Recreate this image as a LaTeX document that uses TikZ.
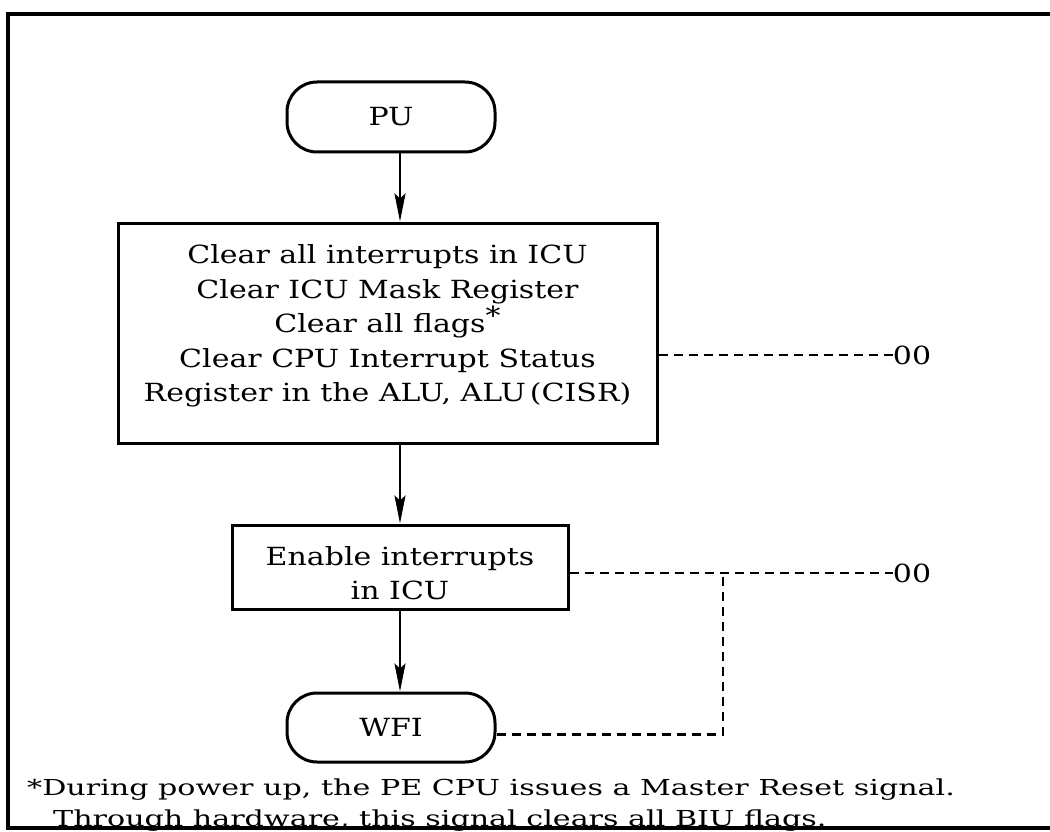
\documentclass[tikz,border=0pt]{standalone}
\usepackage{fontspec}
\setmainfont{DejaVu Serif}[FakeStretch=1.2]
\newfontfamily\fnfont{DejaVu Serif}[FakeStretch=1.37]
\usetikzlibrary{arrows.meta}
\newcommand\mainsz{\fontsize{25}{34.5}\selectfont}
\newcommand\fnsz{\fnfont\fontsize{22}{30}\selectfont}
\begin{document}
\begin{tikzpicture}[x=1pt,y=-1pt,
  frame/.style={line width=3.4pt},
  boxst/.style={draw, line width=3pt, inner sep=0pt},
  term/.style={draw, line width=3pt, rounded corners=30pt, minimum width=208pt, minimum height=70pt, inner sep=0pt, font=\mainsz},
  txt/.style={align=center, inner sep=0pt, font=\mainsz},
  flow/.style={line width=2.4pt, -{Stealth[length=28pt,width=11pt,inset=5pt]}},
  dashline/.style={line width=2.4pt, dash pattern=on 9pt off 6pt},
  fn/.style={anchor=base west, inner sep=0pt, font=\fnsz},
]
\useasboundingbox (0,0) rectangle (1050,832);
% outer frame
\draw[frame] (1050,14) -- (8,14) -- (8,828) -- (1050,828);

% nodes
\node[term] (pu) at (391,117) {PU};
\node[boxst, minimum width=539pt, minimum height=220pt] (clr) at (387.5,333) {};
\node[txt] (clrtxt) at ([yshift=7pt]clr.center) {Clear all interrupts in ICU\\
Clear ICU Mask Register\\
Clear all flags\raisebox{8pt}{*}\\
Clear CPU Interrupt Status\\
Register in the ALU, ALU\,(CISR)};
\node[boxst, minimum width=336pt, minimum height=84pt] (en) at (400,567) {};
\node[txt] (entxt) at ([yshift=-6pt]en.center) {Enable interrupts\\ in ICU};
\node[term, minimum height=69pt] (wfi) at (391,727.5) {WFI};
\node[txt] (oo1) at (912,355) {00};
\node[txt] (oo2) at (912,573) {00};

% flow arrows
\coordinate (ax) at (400,0);
\draw[flow] (pu.south -| ax) -- (clr.north -| ax);
\draw[flow] (clr.south -| ax) -- (en.north -| ax);
\draw[flow] (en.south -| ax) -- (wfi.north -| ax);

% dashed connectors
\draw[dashline] ([yshift=-22pt]clr.east) -- (oo1.west);
\draw[dashline] ([yshift=-6pt]en.east) -- (oo2.west);
\coordinate (jn) at (723,573);
\draw[dashline] ([yshift=-7pt]wfi.east) -| (jn);

% footnote
\node[fn] (fn1) at (27,795) {*During power up, the PE CPU issues a Master Reset signal.};
\node[fn] (fn2) at (53,826) {Through hardware, this signal clears all BIU flags.};
\end{tikzpicture}
\end{document}
